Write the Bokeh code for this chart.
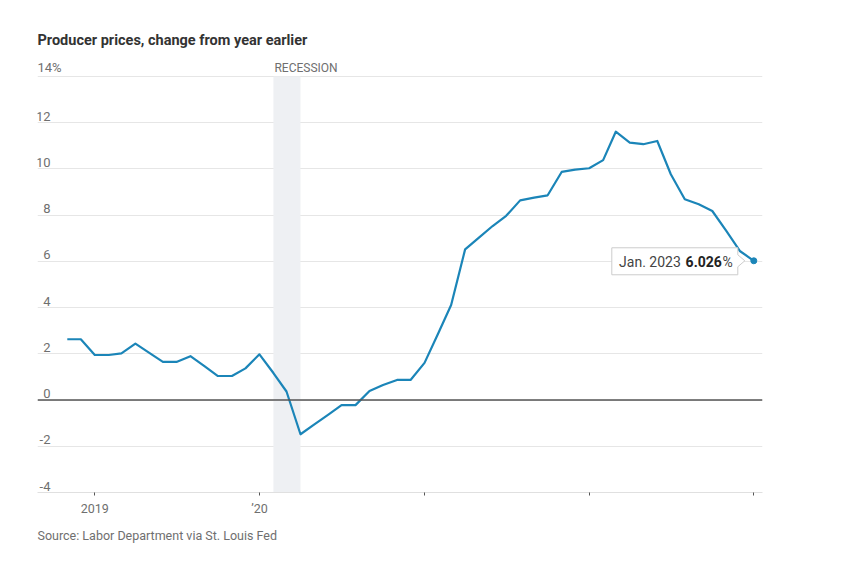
import numpy as np
import pandas as pd
from bokeh.plotting import figure
from bokeh.models import (Range1d, FixedTicker, Span, Title, ColumnDataSource)
from bokeh.core.properties import value
from bokeh.embed import file_html
from bokeh.resources import INLINE

# ---------------- data ----------------
months = pd.date_range("2018-11-01", "2023-01-01", freq="MS")
ppi_yoy = [2.63, 2.63,
           1.95, 1.95, 2.02, 2.44, 2.05, 1.65, 1.65, 1.90, 1.47, 1.04, 1.04, 1.37,
           1.98, 1.17, 0.37, -1.48, -1.06, -0.64, -0.22, -0.22, 0.39, 0.65, 0.87, 0.87,
           1.61, 2.91, 4.11, 6.52, 7.02, 7.53, 7.97, 8.64, 8.76, 8.86, 9.87, 9.97,
           10.03, 10.38, 11.61, 11.14, 11.07, 11.21, 9.77, 8.69, 8.47, 8.18, 7.32, 6.45,
           6.026]
recession_start = pd.Timestamp("2020-02-01")
recession_end = pd.Timestamp("2020-04-01")
y_ticks = [-4, -2, 0, 2, 4, 6, 8, 10, 12, 14]
y_tick_labels = ["-4", "-2", "0", "2", "4", "6", "8", "10", "12", "14%"]
x_ticks = pd.to_datetime(["2019-01-01", "2020-01-01", "2021-01-01", "2022-01-01", "2023-01-01"])
x_tick_labels = ["2019", "\u201920", "", "", ""]
title_text = "Producer prices, change from year earlier"
source_text = "Source: Labor Department via St. Louis Fed"
callout_date = "Jan. 2023"
callout_value = "6.026"

FONT = "Roboto"
GRAY = "#6f6f6f"
BLUE = "#1b85b8"

# ---------------- layout ----------------
W, H = 844, 560
LEFT, TOP, FRAME_W, FRAME_H = 37, 55, 725, 437
ms_year = 365.25 * 86400000.0
px_per_year = 164.75
ms_per_px = ms_year / px_per_year
jan19 = pd.Timestamp("2019-01-01").value / 1e6
x0 = jan19 - 57.3 * ms_per_px
x1 = x0 + FRAME_W * ms_per_px
px_per_unit = 416.0 / 18.0
y0 = -4
y1 = 14 + 21 / px_per_unit

p = figure(width=W, height=H, output_backend="svg", toolbar_location=None,
           x_axis_type="datetime", x_range=Range1d(x0, x1), y_range=Range1d(y0, y1),
           min_border_left=LEFT, min_border_top=TOP,
           min_border_right=W - LEFT - FRAME_W, min_border_bottom=H - TOP - FRAME_H)
p.frame_width = FRAME_W
p.frame_height = FRAME_H
p.outline_line_color = None
p.background_fill_color = "white"
p.border_fill_color = "white"

# title
p.title.text = title_text
p.title.text_font = FONT
p.title.text_font_size = "14.5px"
p.title.text_font_style = "bold"
p.title.text_color = "#333333"
p.title.align = "left"
p.title.standoff = 14
p.title.offset = 0

# y grid, hidden y axis
p.yaxis.visible = False
p.ygrid.ticker = FixedTicker(ticks=y_ticks)
p.ygrid.grid_line_color = "#e6e6e6"
p.ygrid.grid_line_width = 1
p.xgrid.grid_line_color = None

# x axis
ax = p.xaxis[0]
ax.ticker = FixedTicker(ticks=[t.value / 1e6 for t in x_ticks])
ax.major_label_overrides = {t.value / 1e6: lab for t, lab in zip(x_ticks, x_tick_labels)}
ax.axis_line_color = "#e0e0e0"
ax.major_tick_line_color = "#555555"
ax.major_tick_out = 3
ax.major_tick_in = 0
ax.minor_tick_line_color = None
ax.major_label_standoff = 5
ax.major_label_text_font = FONT
ax.major_label_text_font_size = "12.5px"
ax.major_label_text_color = GRAY

# recession shading
p.quad(left=[recession_start], right=[recession_end], bottom=[y_ticks[0]], top=[y_ticks[-1]],
       fill_color="#eef0f3", line_color=None)
p.text(x=[recession_start], y=[y_ticks[-1]], text=["RECESSION"], text_font=value(FONT),
       text_font_size="12px", text_color=GRAY, text_align="left", text_baseline="bottom",
       x_offset=1, y_offset=-2)

# zero line
p.add_layout(Span(location=0, dimension="width", line_color="#555555", line_width=1.4))

# y tick labels (above grid lines)
p.text(x=[x0] * (len(y_ticks) - 1), y=y_ticks[:-1], text=y_tick_labels[:-1],
       text_font=value(FONT), text_font_size="13px", text_color=GRAY,
       text_align="right", text_baseline="bottom", x_offset=13, y_offset=-2)
p.text(x=[x0], y=[y_ticks[-1]], text=[y_tick_labels[-1]],
       text_font=value(FONT), text_font_size="13px", text_color=GRAY,
       text_align="left", text_baseline="bottom", x_offset=0, y_offset=-2)

# series line
src = ColumnDataSource(dict(x=months, y=ppi_yoy))
p.line("x", "y", source=src, line_color=BLUE, line_width=2.2, line_join="round")
p.scatter(x=[months[-1]], y=[ppi_yoy[-1]], size=6, fill_color=BLUE, line_color=BLUE)

# callout box anchored to last point
lx = months[-1].value / 1e6
ly = ppi_yoy[-1]
def dx(px):
    return lx + px * ms_per_px
def dy(px):
    return ly - px / px_per_unit
bx = [dx(-142), dx(-16), dx(-16), dx(-9), dx(-16), dx(-16), dx(-142)]
by = [dy(-13), dy(-13), dy(-6), dy(0), dy(6), dy(14), dy(14)]
p.patch(bx, by, fill_color="white", line_color="#cccccc", line_width=1)
p.text(x=[lx], y=[ly], text=["%"], text_font=value(FONT), text_font_size="14px",
       text_color="#444444", text_align="right", text_baseline="middle",
       x_offset=-21, y_offset=1)
p.text(x=[lx], y=[ly], text=[callout_value], text_font=value(FONT), text_font_size="14px",
       text_color="#222222", text_font_style="bold", text_align="right", text_baseline="middle",
       x_offset=-32, y_offset=1)
p.text(x=[lx], y=[ly], text=[callout_date], text_font=value(FONT), text_font_size="14px",
       text_color="#444444", text_align="right", text_baseline="middle",
       x_offset=-73, y_offset=1)

# source note
src_title = Title(text=source_text, align="left", text_font=FONT, text_font_size="12.5px",
                  text_font_style="normal", text_color=GRAY, standoff=14)
p.add_layout(src_title, "below")

open("out.html", "w").write(file_html(p, INLINE))
